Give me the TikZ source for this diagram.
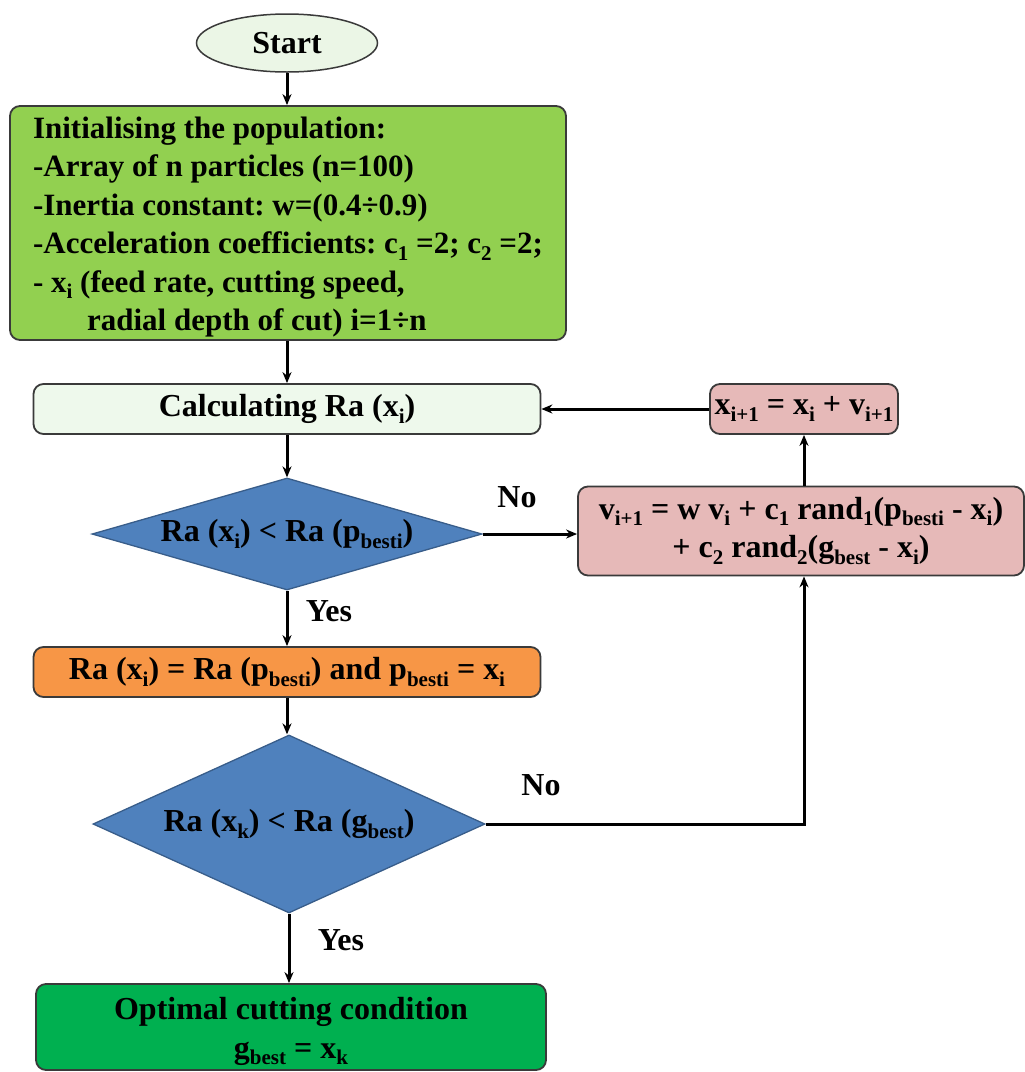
\documentclass[tikz,border=0pt]{standalone}
\usepackage{fontspec}
\setmainfont{Liberation Serif}
\usetikzlibrary{shapes.geometric,arrows.meta}
\definecolor{cstart}{HTML}{EBF6E6}
\definecolor{cinit}{HTML}{92D050}
\definecolor{ccalc}{HTML}{EEF9EC}
\definecolor{cdia}{HTML}{4F81BD}
\definecolor{cdiaborder}{HTML}{385D8A}
\definecolor{cpink}{HTML}{E6B9B8}
\definecolor{corange}{HTML}{F79646}
\definecolor{cfinal}{HTML}{00B050}
\definecolor{cborder}{HTML}{3A3A3A}
\newcommand{\sbx}[1]{\raisebox{-6.5pt}{\fontsize{21}{21}\selectfont #1}}
\newcommand{\mainfnt}{\frenchspacing\fontsize{32}{38.5}\selectfont\bfseries}
\newcommand{\initfnt}{\frenchspacing\fontsize{31}{38.5}\selectfont\bfseries}
\begin{document}
\begin{tikzpicture}[x=1pt,y=-1pt,
  every node/.style={font=\mainfnt, text=black},
  box/.style={draw=cborder, line width=1.8pt, rounded corners=10pt, inner sep=0pt},
  dia/.style={diamond, draw=cdiaborder, fill=cdia, line width=1.3pt, inner sep=0pt},
  arr/.style={line width=3pt, draw=black, -{Stealth[length=11pt,width=9pt]}},
  lbl/.style={inner sep=0pt}]
\useasboundingbox (0,0) rectangle (1025,1072);

\node[ellipse, draw=cborder, line width=1.5pt, fill=cstart, minimum width=181, minimum height=58, inner sep=0pt] (start) at (287,43) {Start};

\node[box, fill=cinit, minimum width=556, minimum height=234, align=left, font=\initfnt] (init) at (288,223) {%
\rule{0pt}{30pt}Initialising the population:\\
-Array of n particles (n=100)\\
-Inertia constant: w=(0.4÷0.9)\\
-Acceleration coefficients: c\sbx{1} =2; c\sbx{2} =2;\\
- x\sbx{i} (feed rate, cutting speed,\\
\hspace*{54pt}radial depth of cut) i=1÷n};

\node[box, fill=ccalc, minimum width=507, minimum height=50] (calc) at (287,409) {Calculating Ra (x\sbx{i})};

\node[dia, minimum width=390, minimum height=112, shape aspect=3.5] (d1) at (287,534) {Ra (x\sbx{i}) < Ra (p\sbx{besti})};

\node[box, fill=corange, minimum width=507, minimum height=50] (upd) at (287,672) {Ra (x\sbx{i}) = Ra (p\sbx{besti}) and p\sbx{besti} = x\sbx{i}};

\node[dia, minimum width=392, minimum height=178, shape aspect=2.2] (d2) at (289,824) {Ra (x\sbx{k}) < Ra (g\sbx{best})};

\node[box, fill=cfinal, minimum width=510, minimum height=86, align=center] (final) at (291,1027) {\rule{0pt}{31pt}Optimal cutting condition\\[0pt] g\sbx{best} = x\sbx{k}};

\node[box, fill=cpink, minimum width=446, minimum height=89, align=center] (vel) at (801,531) {v\sbx{i+1} = w v\sbx{i} + c\sbx{1} rand\sbx{1}(p\sbx{besti} - x\sbx{i})\\ + c\sbx{2} rand\sbx{2}(g\sbx{best} - x\sbx{i})};

\node[box, fill=cpink, minimum width=188, minimum height=50] (pos) at (804,409) {x\sbx{i+1} = x\sbx{i} + v\sbx{i+1}};

\coordinate (corner) at (vel.south -| pos.south);
\coordinate (d2out) at (corner |- d2.east);

\draw[arr] (start.south) -- (init.north -| start.south);
\draw[arr] (init.south -| calc.north) -- (calc.north);
\draw[arr] (calc.south) -- (d1.north);
\draw[arr] (d1.south) -- (upd.north);
\node[lbl] (yes1) at (329,611) {Yes};
\draw[arr] (upd.south) -- (upd.south |- d2.north);
\draw[arr] (d2.south) -- (final.north -| d2.south);
\node[lbl] (yes2) at (341,940) {Yes};
\draw[arr] (d1.east) -- (vel.west |- d1.east);
\node[lbl] (no1) at (517,497) {No};
\draw[arr] (d2.east) -- (d2out) -- (corner);
\node[lbl] (no2) at (541,785) {No};
\draw[arr] (vel.north -| pos.south) -- (pos.south);
\draw[arr] (pos.west) -- (calc.east);
\end{tikzpicture}
\end{document}
